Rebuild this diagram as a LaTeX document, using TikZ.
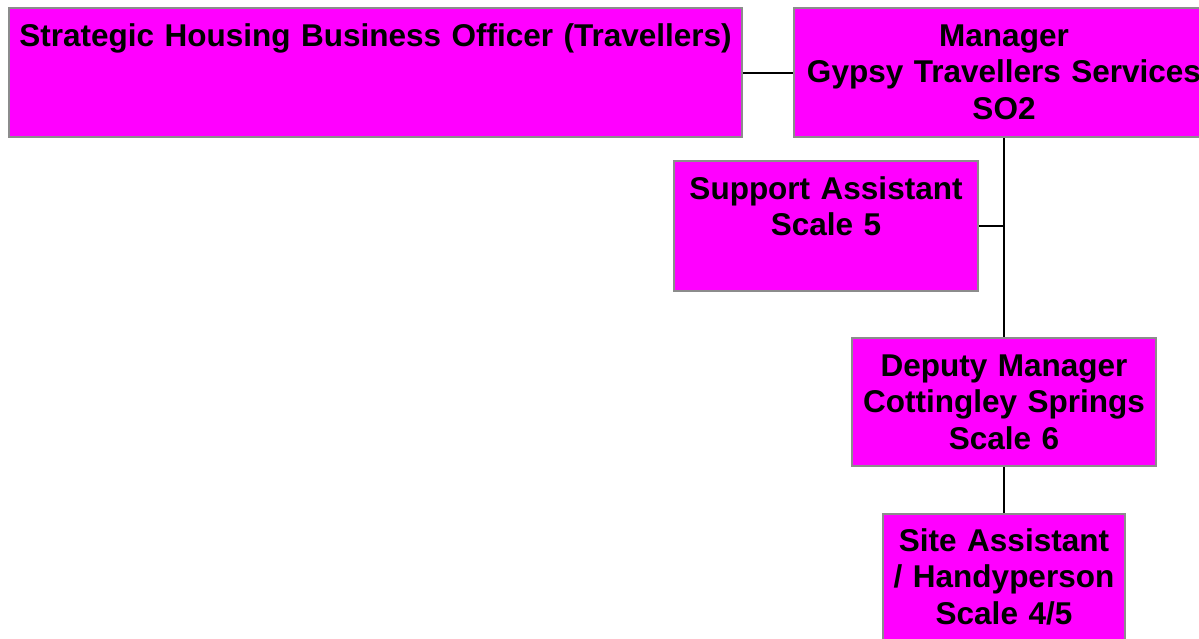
\documentclass[tikz,border=0pt]{standalone}
\usepackage{fontspec}
\setmainfont{Liberation Sans}
\definecolor{postfill}{RGB}{255,0,255}
\definecolor{postline}{RGB}{140,140,140}
\begin{document}
\begin{tikzpicture}[x = 1pt, y = -1pt,
        post/.style = {draw = postline, line width = 2pt, fill = postfill, anchor = north west, inner sep = 0pt},
        posttext/.style = {anchor = base, inner sep = 0pt, align = center, font = \fontsize{31.5}{36.5}\selectfont\bfseries},
        link/.style = {line width = 2pt}]
    \clip (0,0) rectangle (1199,638);
    \node[post, minimum width = 733pt, minimum height = 129pt] (sho) at (8,7) {};
    \node[post, minimum width = 420pt, minimum height = 129pt] (mgr) at (793,7) {};
    \node[post, minimum width = 304pt, minimum height = 130pt] (sup) at (673,160) {};
    \node[post, minimum width = 304pt, minimum height = 128pt] (dep) at (851,337) {};
    \node[post, minimum width = 242pt, minimum height = 129pt] (site) at (882,513) {};
    \begin{scope}[every node/.append style = {posttext}]
        \node[text width = 733pt] (shotext) at ([yshift = -39pt]sho.north) {Strategic Housing Business Officer (Travellers)};
        \node[text width = 420pt] (mgrtext) at ([yshift = -39pt]mgr.north) {Manager\\Gypsy Travellers Services\\SO2};
        \node[text width = 304pt] (suptext) at ([yshift = -39pt]sup.north) {Support Assistant\\Scale 5};
        \node[text width = 304pt] (deptext) at ([yshift = -39pt]dep.north) {Deputy Manager\\Cottingley Springs\\Scale 6};
        \node[text width = 242pt] (sitetext) at ([yshift = -38pt]site.north) {Site Assistant\\/ Handyperson\\Scale 4/5};
    \end{scope}
    \begin{scope}[style = link]
        \draw (sho.east) -- (mgr.west);
        \draw (mgr.south) -- (dep.north);
        \draw (sup.east) -- (sup.east -| mgr.south);
        \draw (dep.south) -- (site.north);
    \end{scope}
\end{tikzpicture}
\end{document}
